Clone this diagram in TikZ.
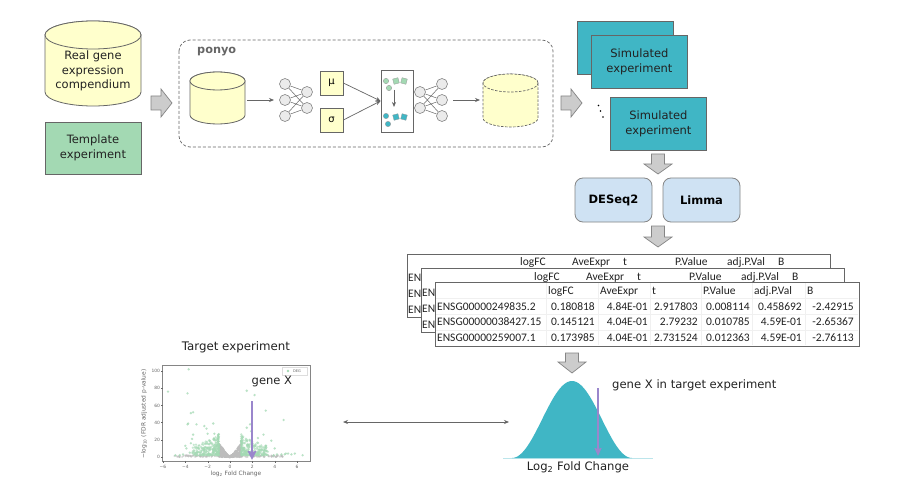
\documentclass[tikz,border=0pt]{standalone}
\usepackage{fontspec}
\setmainfont{DejaVu Sans}
\newfontfamily\tabfont{Carlito}
\usetikzlibrary{arrows.meta}
\definecolor{cylY}{HTML}{FFFFCC}
\definecolor{tmplG}{HTML}{A3D9B3}
\definecolor{simT}{HTML}{40B6C5}
\definecolor{boxB}{HTML}{CFE2F3}
\definecolor{blockG}{HTML}{CCCCCC}
\definecolor{edgeG}{HTML}{666666}
\definecolor{purp}{HTML}{9A86CC}
\definecolor{nnG}{HTML}{EBEBEB}
\definecolor{gridG}{HTML}{DDDDDD}
\definecolor{cellG}{HTML}{F0F0F0}
\definecolor{txtD}{HTML}{222222}
\tikzset{
  lbl/.style={font=\fontsize{11.5}{14.5}\selectfont, align=center, text=txtD, inner sep=0pt},
  simbox/.style={draw=edgeG, line width=0.8pt, fill=simT, minimum width=96pt, minimum height=53pt, inner sep=0pt, anchor=north west, lbl},
  toolbox/.style={draw=edgeG!80, line width=0.8pt, fill=boxB, rounded corners=8pt, minimum width=77pt, minimum height=44pt, inner sep=0pt, font=\fontsize{11.5}{14}\bfseries\selectfont},
  blockarrow/.style={draw=edgeG!80, line width=0.7pt, fill=blockG},
  flow/.style={draw=edgeG, line width=0.7pt, -{Stealth[length=5pt,width=4pt]}},
  nn/.style={circle, draw=edgeG!80, fill=nnG, line width=0.6pt, minimum size=11pt, inner sep=0pt},
  nnlink/.style={draw=edgeG, line width=0.5pt},
  latentbox/.style={draw=edgeG, line width=0.7pt, fill=cylY, minimum width=23pt, minimum height=24pt, inner sep=0pt, font=\fontsize{10}{12}\selectfont},
  tablebox/.style={draw=edgeG, line width=0.8pt, fill=white, anchor=north west, inner sep=0pt},
  cell/.style={font=\tabfont\fontsize{11.5}{13}\selectfont, inner sep=0pt, anchor=base west, text=txtD},
  num/.style={font=\tabfont\fontsize{11.5}{13}\selectfont, inner sep=0pt, anchor=base east, text=txtD},
  ticklab/.style={font=\fontsize{4.4}{5}\selectfont, inner sep=0pt, text=edgeG},
  axlab/.style={font=\fontsize{5.9}{7}\selectfont, inner sep=0pt, text=edgeG},
  gene/.style={draw=purp, line width=1.6pt, -{Stealth[length=8pt,width=7pt,inset=1pt]}},
}
% cylinder: x1 x2 ytop ry ybottom style
\newcommand{\drawcyl}[6]{%
  \pgfmathsetmacro{\cxm}{(#1+#2)/2}\pgfmathsetmacro{\crx}{(#2-#1)/2}%
  \pgfmathsetmacro{\cym}{#3+#4}\pgfmathsetmacro{\cyb}{#5-#4}%
  \path[#6] (#1,\cym) -- (#1,\cyb) arc[start angle=180,end angle=360,x radius=\crx pt,y radius=#4 pt] -- (#2,\cym) arc[start angle=0,end angle=180,x radius=\crx pt,y radius=#4 pt] -- cycle;%
  \path[#6] (\cxm,\cym) ellipse[x radius=\crx pt,y radius=#4 pt];%
}
% horizontal block arrow: x1 xhead xtip ycentre
\newcommand{\rarrow}[4]{\path[blockarrow] (#1,#4-7) -- (#2,#4-7) -- (#2,#4-14) -- (#3,#4) -- (#2,#4+14) -- (#2,#4+7) -- (#1,#4+7) -- cycle;}
% vertical block arrow: xcentre y1 yhead ytip
\newcommand{\darrow}[4]{\path[blockarrow] (#1-6.5,#2) -- (#1+6.5,#2) -- (#1+6.5,#3) -- (#1+14,#3) -- (#1,#4) -- (#1-14,#3) -- (#1-6.5,#3) -- cycle;}
\begin{document}
\begin{tikzpicture}[x=1pt,y=-1pt]
\useasboundingbox (0,0) rectangle (900,500);
\fill[white] (0,0) rectangle (900,500);

% left inputs
\drawcyl{45}{141}{21}{14}{106}{draw=edgeG,line width=0.8pt,fill=cylY}
\node[lbl] (real) at (93,71) {Real gene\\expression\\compendium};
\node[draw=edgeG,line width=0.8pt,fill=tmplG,minimum width=96pt,minimum height=52pt,inner sep=0pt,lbl] (template) at (93,148) {Template\\experiment};
\rarrow{151}{161}{172}{103}

% ponyo box
\draw[edgeG,line width=0.7pt,rounded corners=11pt,dash pattern=on 3pt off 2pt] (179,40) rectangle (553,147);
\node[font=\fontsize{11.3}{13}\bfseries\selectfont,text=edgeG,inner sep=0pt,anchor=west] (ponyo) at (197,52) {ponyo};

\drawcyl{190}{245}{72}{9}{124}{draw=edgeG,line width=0.8pt,fill=cylY}
\coordinate (cylout) at (247,100);
\coordinate (nnin) at (274,100);
\draw[flow] (cylout) -- (nnin);

% encoder
\foreach \n/\y in {a1/84,a2/100,a3/116} \node[nn] (\n) at (285,\y) {};
\foreach \n/\y in {b1/92,b2/108} \node[nn] (\n) at (307,\y) {};
\foreach \s in {a1,a2,a3} \foreach \t in {b1,b2} \draw[nnlink] (\s) -- (\t);

\node[latentbox] (mu) at (331.5,83) {μ};
\node[latentbox] (sigma) at (331.5,120) {σ};

% latent panel
\node[draw=edgeG,line width=0.8pt,fill=white,minimum width=32pt,minimum height=62pt,inner sep=0pt] (latent) at (397,101) {};
\draw[flow] (mu.east) -- (latent.west);
\draw[flow] (sigma.east) -- (latent.west);
\foreach \x/\y in {386/81,389/88} \filldraw[draw=edgeG!70,fill=tmplG,line width=0.3pt] (\x,\y) circle[radius=2.7pt];
\foreach \x/\y/\r in {396/81/15,404/81/-15} \filldraw[draw=edgeG!70,fill=tmplG,line width=0.3pt,rotate around={\r:(\x,\y)}] (\x-2.7,\y-2.7) rectangle (\x+2.7,\y+2.7);
\foreach \x/\y in {386/116,388/124} \filldraw[draw=edgeG!70,fill=simT,line width=0.3pt] (\x,\y) circle[radius=2.7pt];
\foreach \x/\y/\r in {396/117/15,404/117/-15} \filldraw[draw=edgeG!70,fill=simT,line width=0.3pt,rotate around={\r:(\x,\y)}] (\x-2.7,\y-2.7) rectangle (\x+2.7,\y+2.7);
\coordinate (zfrom) at (394,90);
\coordinate (zto) at (394,107);
\draw[flow] (zfrom) -- (zto);

% decoder
\foreach \n/\y in {c1/92,c2/108} \node[nn] (\n) at (420,\y) {};
\foreach \n/\y in {d1/84,d2/100,d3/116} \node[nn] (\n) at (442,\y) {};
\foreach \s in {c1,c2} \foreach \t in {d1,d2,d3} \draw[nnlink] (\s) -- (\t);

\coordinate (nnout) at (453,100);
\coordinate (cylin) at (480,100);
\draw[flow] (nnout) -- (cylin);
\drawcyl{483}{538}{74}{9}{127}{draw=edgeG,line width=0.7pt,dash pattern=on 2.5pt off 1.5pt,fill=cylY}

% simulated
\rarrow{561}{571}{582}{103}
\node[simbox] (sim1) at (577,21) {};
\node[simbox] (sim2) at (591,35) {Simulated\\experiment};
\node[simbox] (sim3) at (610,97) {Simulated\\experiment};
\foreach \x/\y in {598.5/105.5,600.5/111,603/117} \fill[black] (\x,\y) circle[radius=0.9pt];
\darrow{658}{154}{164}{174}

\node[toolbox] (deseq) at (613.5,200) {DESeq2};
\node[toolbox] (limma) at (701.5,200) {Limma};
\darrow{658}{226}{237}{247}

% tables
\node[tablebox,minimum width=423pt,minimum height=63pt] (t1) at (407,254) {};
\foreach \x/\s in {520/logFC,572/AveExpr,623/t,675/P.Value,727/adj.P.Val,778/B} \node[cell] at (\x,265.5) {\s};
\foreach \y in {281,297,313} \node[cell] at (408,\y) {EN};

\node[tablebox,minimum width=423pt,minimum height=64pt] (t2) at (421,268) {};
\foreach \x/\s in {534/logFC,586/AveExpr,637/t,689/P.Value,741/adj.P.Val,792/B} \node[cell] at (\x,280.5) {\s};
\foreach \y in {296,312,328} \node[cell] at (422,\y) {EN};

\node[tablebox,minimum width=424pt,minimum height=64pt] (t3) at (435,282) {};
\foreach \y in {298,314,330} \draw[cellG,line width=0.4pt] (436,\y) -- (858,\y);
\foreach \x in {546,598,650,701,752,805} \draw[cellG,line width=0.4pt] (\x,283) -- (\x,345);
\foreach \x/\s in {548/logFC,600/AveExpr,652/t,703/P.Value,754/adj.P.Val,807/B} \node[cell] at (\x,294.5) {\s};
\foreach \y/\g/\a/\b/\c/\d/\e/\f in {
  310/ENSG00000249835.2/0.180818/4.84E-01/2.917803/0.008114/0.458692/-2.42915,
  325.5/ENSG00000038427.15/0.145121/4.04E-01/2.79232/0.010785/4.59E-01/-2.65367,
  341/ENSG00000259007.1/0.173985/4.04E-01/2.731524/0.012363/4.59E-01/-2.76113}{
  \node[cell] at (437,\y) {\g};
  \node[num] at (595,\y) {\a};
  \node[num] at (648,\y) {\b};
  \node[num] at (698,\y) {\c};
  \node[num] at (750,\y) {\d};
  \node[num] at (802,\y) {\e};
  \node[num] at (854,\y) {\f};
}
\darrow{572}{353}{362}{373}

% distribution
\fill[simT!35] (503,457.6) rectangle (653,458.4);
\fill[simT] plot[domain=-60:60,samples=61,smooth] ({572+\x},{458-77*cos(\x*1.5)*cos(\x*1.5)}) -- cycle;
\node[lbl,font=\fontsize{11.6}{13}\selectfont,anchor=west] (genexT) at (612,385) {gene X in target experiment};
\node[lbl,font=\fontsize{11.6}{13}\selectfont] (log2) at (578,467.5) {Log\textsubscript{2} Fold Change};
\coordinate (gt1) at (598,388);
\coordinate (gt2) at (598,456);
\draw[gene] (gt1) -- (gt2);

% volcano
\node[lbl,font=\fontsize{11.8}{14}\selectfont] (ttl) at (236,347) {Target experiment};
\draw[edgeG!80,line width=0.9pt] (162,365) rectangle (310,461);
\begin{scope}[shift={(230,457)},x=11.17pt,y=0.86pt]
  \begin{scope}
  \clip (-6,-4) rectangle (7,106);
  \pgfmathsetseed{4242}
  \foreach \i in {1,...,500} {
    \pgfmathsetmacro{\vx}{2*rnd-1}
    \pgfmathsetmacro{\vy}{rnd*17*abs(\vx)^1.2}
    \fill[gridG!85!black,opacity=.7] (\vx,\vy) circle[radius=1.1pt];
  }
  \foreach \i in {1,...,140} {
    \pgfmathsetmacro{\vx}{-5+10*rnd}
    \pgfmathsetmacro{\vy}{rnd*2}
    \fill[gridG!85!black,opacity=.6] (\vx,\vy) circle[radius=1.1pt];
  }
  \foreach \i in {1,...,480} {
    \pgfmathsetmacro{\r}{rnd}
    \pgfmathsetmacro{\vm}{1+2.4*\r*\r}
    \pgfmathsetmacro{\vy}{2+26*rnd^1.6*(1-\r*0.55)}
    \pgfmathsetmacro{\vs}{rnd>0.5 ? 1 : -1}
    \fill[tmplG,opacity=.6] ({\vs*\vm},\vy) circle[radius=1.3pt];
  }
  \foreach \x/\y in {-3.7/102,-5.55/76,-3.8/74,1.5/77,2.2/72,-3.5/51,-3.3/52,3.2/54,4.8/43,-3.8/38,-3.75/39,-3/38,-2.3/36,-2.1/33,-1.5/39,1.8/38,1.5/34,1.9/30,-3.3/26,-3.4/21,-4/13,-3.9/10,-3.5/16,-2/27,-1.4/27,3/26,2.5/22,3.7/19,3.2/13,4/10,-4.9/2,-4.5/2,-4.2/3,-3.6/5,4.6/3,4.9/3,5.2/4,5.5/3,5.8/4,6.5/2,4.2/3,3.9/2,5/4} {
    \fill[tmplG,opacity=.75] (\x,\y) circle[radius=1.3pt];
  }
  \end{scope}
  \foreach \x in {-6,-4,-2,0,2,4,6} {
    \draw[edgeG,line width=0.3pt] (\x,-4.6) -- ++(0,-1.6pt);
    \node[ticklab] (xt\x) at (\x,-11.5) {\ifnum\x<0 −\the\numexpr-\x\relax\else\x\fi};
  }
  \foreach \y in {0,20,40,60,80,100} {
    \draw[edgeG,line width=0.3pt] (-6.03,\y) -- ++(-1.6pt,0);
    \node[ticklab,anchor=east] (yt\y) at (-6.25,\y) {\y};
  }
\end{scope}
\node[axlab] (xl) at (236,474) {log\textsubscript{2} Fold Change};
\node[axlab,rotate=90] (yl) at (144,414) {−log\textsubscript{10} (FDR adjusted p-value)};
\node[draw=gridG,line width=0.4pt,fill=white,minimum width=25pt,minimum height=8pt,inner sep=0pt] (leg) at (294.5,371) {};
\fill[tmplG] (288,371) circle[radius=1.3pt];
\node[font=\fontsize{3.6}{4}\selectfont,text=edgeG,inner sep=0pt,anchor=west] (degl) at (293,371) {DEG};
\node[lbl,font=\fontsize{11.5}{14}\selectfont,anchor=west] (genex) at (251.5,382) {gene X};
\coordinate (gv1) at (252,401);
\coordinate (gv2) at (252,460);
\draw[draw=purp,line width=1.9pt,-{Stealth[length=9pt,width=8.5pt,inset=1pt]}] (gv1) -- (gv2);

% comparison arrow
\coordinate (cmpL) at (343,422);
\coordinate (cmpR) at (509,422);
\draw[draw=edgeG,line width=0.7pt,{Stealth[length=5pt,width=4pt]}-{Stealth[length=5pt,width=4pt]}] (cmpL) -- (cmpR);
\end{tikzpicture}
\end{document}
